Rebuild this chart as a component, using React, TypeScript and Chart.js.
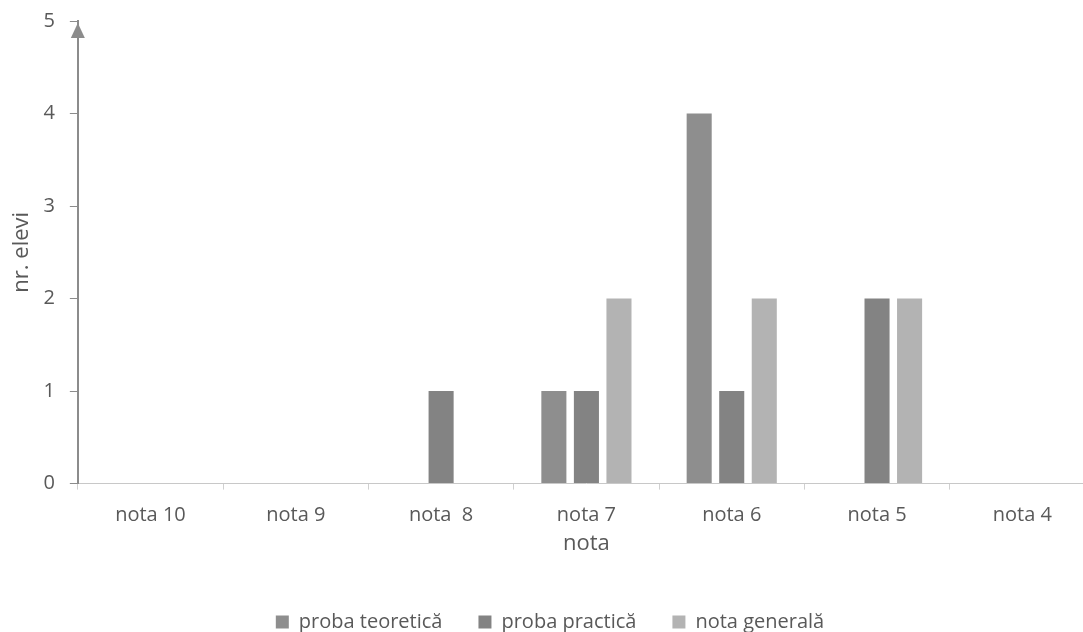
import React, { useEffect, useRef } from "react";
import { Chart, registerables } from "chart.js";

Chart.register(...registerables);

const categories = ["nota 10", "nota 9", "nota  8", "nota 7", "nota 6", "nota 5", "nota 4"];
const probaTeoretica = [0, 0, 0, 1, 4, 0, 0];
const probaPractica = [0, 0, 1, 1, 1, 2, 0];
const notaGenerala = [0, 0, 0, 2, 2, 2, 0];
const yTicks = [0, 1, 2, 3, 4, 5];

const FONT = "'Open Sans', sans-serif";
const AXIS = "#8c8c8c";
const TEXT = "#595959";

const arrowPlugin = {
  id: "yArrow",
  afterDraw(chart: any) {
    const y = chart.scales.y;
    const ctx = chart.ctx;
    const x = y.right;
    const top = y.top;
    ctx.save();
    ctx.fillStyle = AXIS;
    ctx.beginPath();
    ctx.moveTo(x, top + 2);
    ctx.lineTo(x - 7, top + 17);
    ctx.lineTo(x + 7, top + 17);
    ctx.closePath();
    ctx.fill();
    ctx.restore();
  },
};

export default function App() {
  const ref = useRef<HTMLCanvasElement | null>(null);
  useEffect(() => {
    document.body.style.margin = "0";
    if (!ref.current) return;
    const chart = new Chart(ref.current, {
      type: "bar",
      data: {
        labels: categories,
        datasets: [
          { label: "proba teoretică", data: probaTeoretica, backgroundColor: "#8e8e8e" },
          { label: "proba practică", data: probaPractica, backgroundColor: "#838383" },
          { label: "nota generală", data: notaGenerala, backgroundColor: "#b3b3b3" },
        ],
      },
      options: {
        animation: false,
        responsive: false,
        devicePixelRatio: 1,
        datasets: { bar: { categoryPercentage: 0.672, barPercentage: 0.77 } },
        layout: { padding: { top: 0, right: 0, left: 5, bottom: -10 } },
        plugins: {
          tooltip: { enabled: false },
          legend: {
            position: "bottom",
            labels: {
              font: { family: FONT, size: 20 },
              color: TEXT,
              boxWidth: 13,
              boxHeight: 13,
              padding: 36,
            },
          },
        },
        scales: {
          x: {
            grid: { drawOnChartArea: false, drawTicks: true, tickLength: 6, color: "#d0d0d0" },
            border: { display: true, color: "#c8c8c8" },
            ticks: { font: { family: FONT, size: 20 }, color: TEXT, padding: 14 },
            title: { display: true, text: "nota", font: { family: FONT, size: 22 }, color: TEXT, padding: { top: -11, bottom: 19 } },
          },
          y: {
            min: 0,
            max: 5,
            afterBuildTicks: (s: any) => { s.ticks = yTicks.map((v) => ({ value: v })); },
            grid: { drawOnChartArea: false, drawTicks: true, tickLength: 8, color: AXIS },
            border: { display: true, color: AXIS, width: 2 },
            ticks: { font: { family: FONT, size: 20, lineHeight: 0.6 }, color: TEXT, padding: 15 },
            title: { display: true, text: "nr. elevi", font: { family: FONT, size: 22 }, color: TEXT, padding: { top: 4, bottom: -7 } },
          },
        },
      },
      plugins: [arrowPlugin],
    });
    return () => chart.destroy();
  }, []);
  return (
    <div style={{ width: 1083, height: 632, background: "#fff", overflow: "hidden" }}>
      <canvas ref={ref} width={1095} height={632} style={{ display: "block" }} />
    </div>
  );
}
